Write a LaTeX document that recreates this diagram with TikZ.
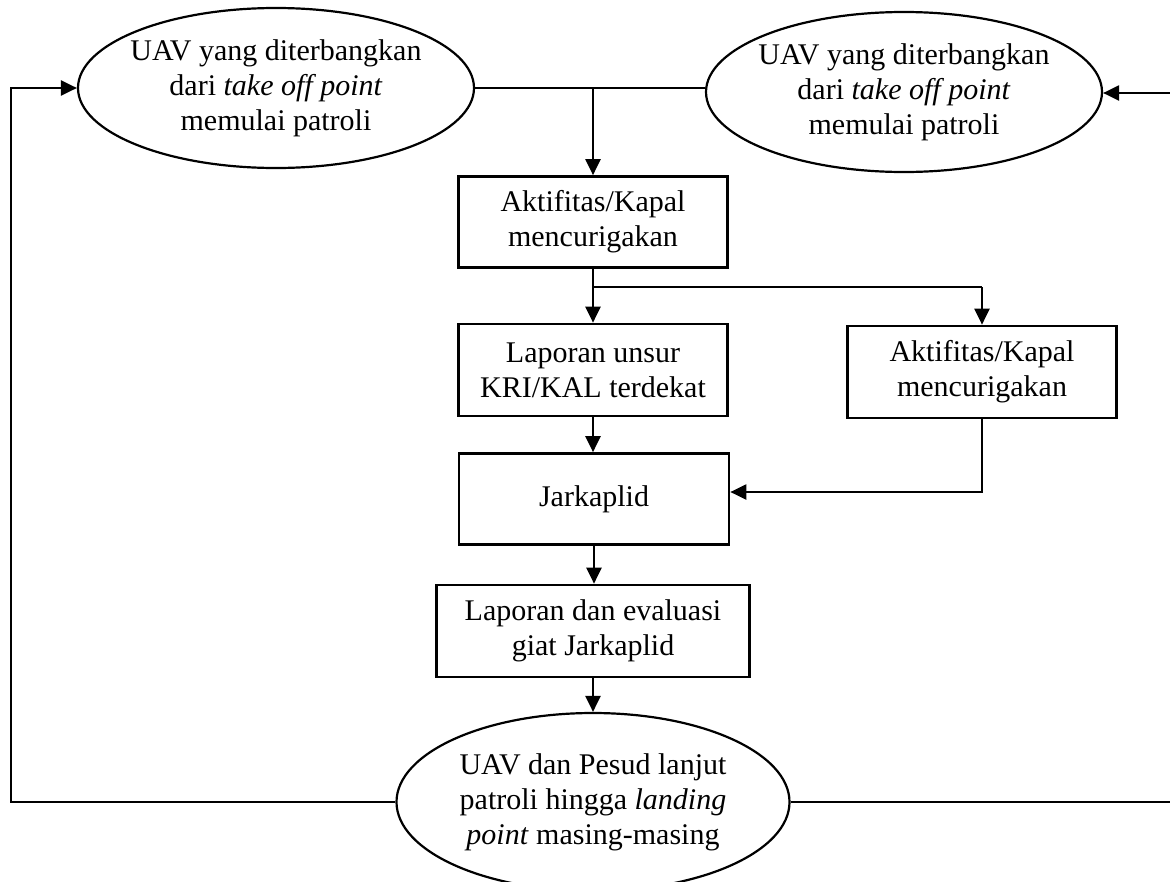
\documentclass[tikz,border=0pt]{standalone}
\usepackage{fontspec}
\setmainfont{Liberation Serif}
\usetikzlibrary{shapes.geometric,arrows.meta,calc}
\tikzset{
  txt/.style={font=\fontsize{30}{35}\selectfont, align=center},
  procbox/.style={txt, draw, line width=2.7pt, rectangle, inner sep=0pt, minimum width=269pt, minimum height=91pt},
  oval/.style={txt, draw, line width=2.2pt, ellipse, inner xsep=-20pt, inner ysep=0pt},
  conn/.style={line width=2.2pt},
  thinconn/.style={line width=1.6pt},
  arr/.style={-{Triangle[length=16pt,width=15pt]}},
}
\begin{document}
\begin{tikzpicture}[x=1pt,y=-1pt]
\useasboundingbox (0,0) rectangle (1170,881);
\clip (0,0) rectangle (1170,881);
% nodes
\node[oval, minimum width=396pt, minimum height=160pt] (L) at (276,88)
  {UAV yang diterbangkan\\dari \textit{take off point}\\memulai patroli};
\node[oval, minimum width=396pt, minimum height=160pt] (R) at (904,92)
  {UAV yang diterbangkan\\dari \textit{take off point}\\memulai patroli};
\node[procbox] (A1) at (593,222) {Aktifitas/Kapal\\mencurigakan};
\node[procbox, minimum height=92pt] (K2) at (593,370) {Laporan unsur\\KRI/KAL terdekat};
\node[procbox, minimum height=92pt] (A3) at (982,372) {Aktifitas/Kapal\\mencurigakan};
\node[procbox, minimum width=270pt] (J4) at (594,499) {Jarkaplid};
\node[procbox, minimum width=313pt, minimum height=92pt] (E5) at (593,631) {Laporan dan evaluasi\\giat Jarkaplid};
\node[oval, minimum width=393pt, minimum height=178pt] (B) at (593,802)
  {UAV dan Pesud lanjut\\patroli hingga \textit{landing}\\\textit{point} masing-masing};
% helper coordinates
\coordinate (top) at (593,88);
\coordinate (br) at (593,287);
\coordinate (jin) at ($(J4.east)+(0,-7)$);
\coordinate (lt) at (11,88);
\coordinate (rin) at (1170,93);
\coordinate (rout) at (1170,802);
% connectors
\draw[conn] (L.east) -- (R.west |- L.east);
\draw[conn, arr] (top) -- (A1.north);
\draw[conn, arr] (A1.south) -- (K2.north);
\draw[thinconn] (br) -- (br -| A3.north);
\draw[conn, arr] (br -| A3.north) -- (A3.north);
\draw[conn, arr] (K2.south) -- (K2.south |- J4.north);
\draw[conn, arr] (A3.south) |- (jin);
\draw[conn, arr] (J4.south) -- (J4.south |- E5.north);
\draw[conn, arr] (E5.south) -- (B.north);
\draw[conn, arr] (B.west) -| (lt) -- (L.west);
\draw[conn, arr] (rin) -- (R.east |- rin);
\draw[thinconn] (B.east) -- (rout);
\end{tikzpicture}
\end{document}
